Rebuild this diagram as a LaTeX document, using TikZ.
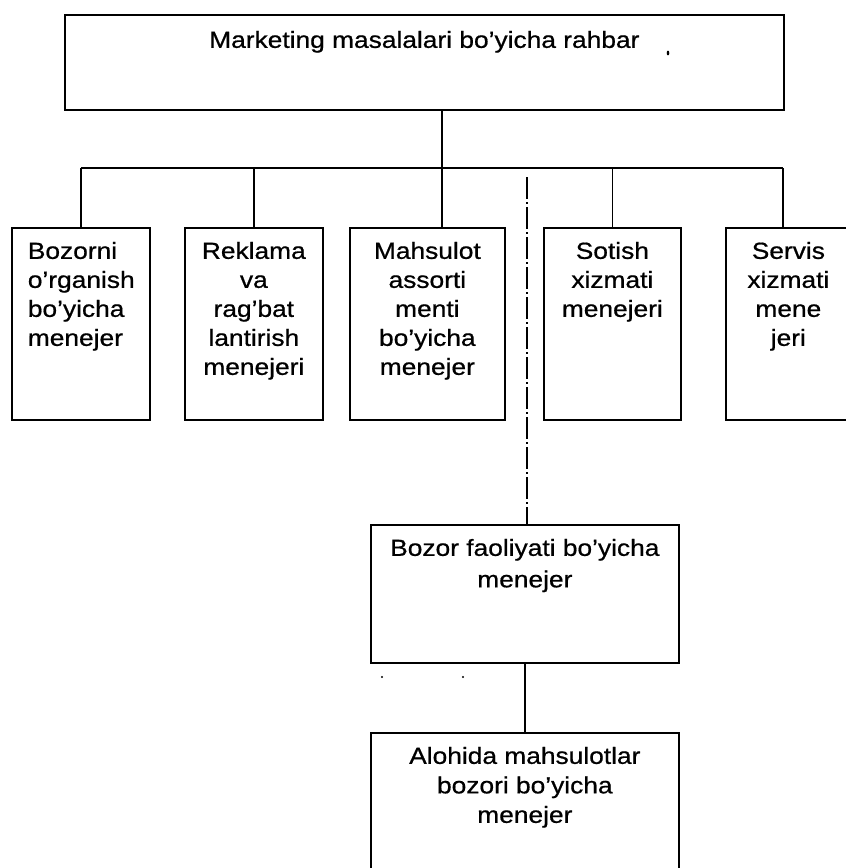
\documentclass[tikz,border=0pt]{standalone}
\usepackage{fontspec}
\setmainfont{Liberation Sans}[FakeStretch=1.13, FakeBold=0.7]
\newcommand{\orgtxt}[4]{\parbox[t][#2pt][t]{#1pt}{#3\rule{0pt}{31pt}#4}}
\tikzset{
  box/.style={draw, line width=1.7pt, rectangle, inner sep=0pt, anchor=north west,
    font=\fontsize{23.3}{29}\selectfont},
  link/.style={line width=1.7pt},
  faint/.style={line width=1.1pt, dash pattern=on 22pt off 3pt on 2pt off 3pt},
}
\begin{document}
\begin{tikzpicture}[x=1pt, y=-1pt]
\useasboundingbox (0,0) rectangle (846,868);
% top box
\node[box] (top) at (64,14) {\orgtxt{719}{95}{\centering\rule{0pt}{33pt}}{Marketing masalalari bo'yicha rahbar}};
% second row
\node[box] (b1) at (11,227) {\orgtxt{138}{192}{\raggedright\leftskip=16pt}{Bozorni\\o'rganish\\bo'yicha\\menejer}};
\node[box] (b2) at (184,227) {\orgtxt{138}{192}{\centering}{Reklama\\va\\rag'bat\\lantirish\\menejeri}};
\node[box] (b3) at (349,227) {\orgtxt{155}{192}{\centering}{Mahsulot\\assorti\\menti\\bo'yicha\\menejer}};
\node[box] (b4) at (543,227) {\orgtxt{137}{192}{\centering}{Sotish\\xizmati\\menejeri}};
\node[box] (b5) at (725,227) {\orgtxt{125}{192}{\centering}{Servis\\xizmati\\mene\\jeri}};
% lower boxes
\node[box, font=\fontsize{23.3}{31.5}\selectfont] (bz) at (370,524) {\orgtxt{308}{138}{\centering}{Bozor faoliyati bo'yicha\\menejer}};
\node[box, font=\fontsize{23.3}{29.5}\selectfont] (al) at (370,732) {\orgtxt{308}{142}{\centering}{Alohida mahsulotlar\\bozori bo'yicha\\menejer}};
% connectors
\coordinate (j3) at (442,168);
\coordinate (j5) at (783,168);
\coordinate (free) at (527,177);
\draw[link] (top.south -| j3) -- (j3);
\draw[link] (b1.north |- j3) -- (j5);
\draw[link] (b1.north |- j3) -- (b1.north);
\draw[link] (b2.north |- j3) -- (b2.north);
\draw[link] (j3) -- (j3 |- b3.north);
\draw[link] (b4.north |- j3) -- (b4.north);
\draw[link] (j5) -- (j5 |- b5.north);
\draw[faint] (free) -- (free |- bz.north);
\draw[link] (bz.south) -- (al.north);
% small marks
\fill (668,53) ellipse (1.3 and 2.4);
\fill (382,677) circle (1.1);
\fill (463,677) circle (1.1);
\end{tikzpicture}
\end{document}
